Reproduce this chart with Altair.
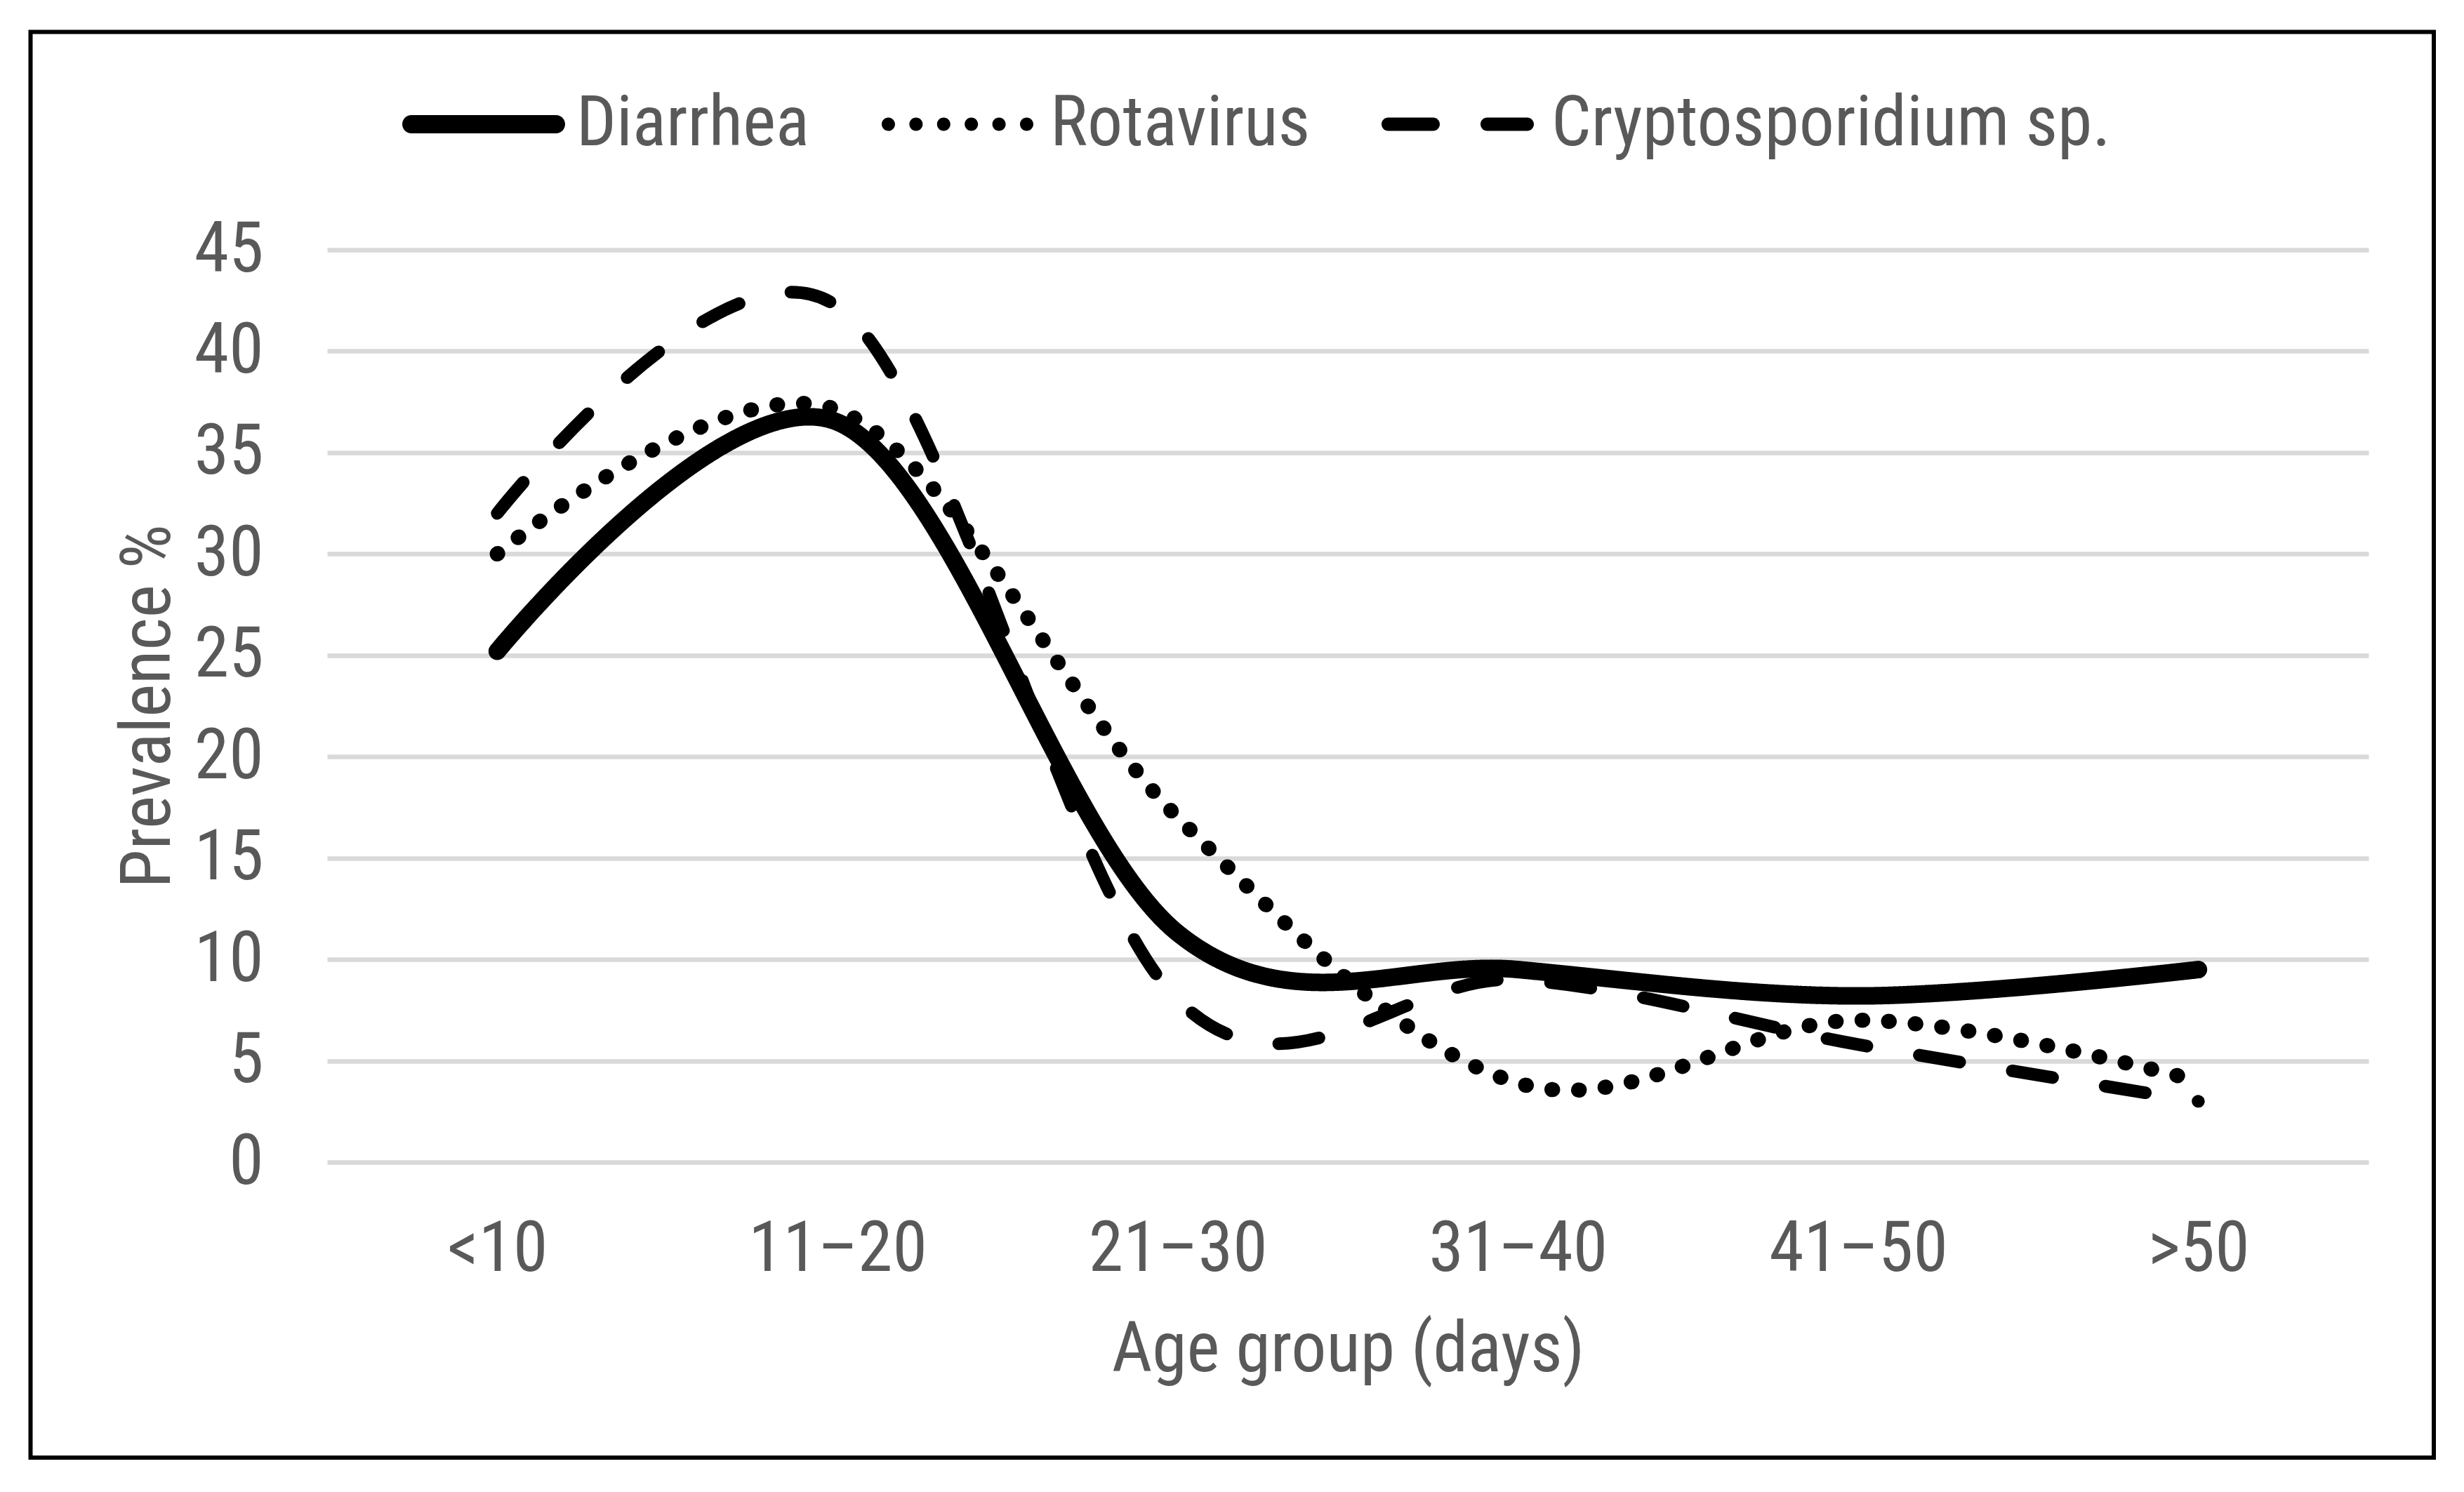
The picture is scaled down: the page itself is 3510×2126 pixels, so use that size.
import altair as alt
import pandas as pd

# ---- data ----
age_groups = ["<10", "11–20", "21–30", "31–40", "41–50", ">50"]
series_names = ["Diarrhea", "Rotavirus", "Cryptosporidium sp."]
diarrhea = [25.2, 36.5, 11.3, 9.5, 8.2, 9.5]
rotavirus = [30.0, 37.1, 17.0, 3.9, 7.0, 4.0]
cryptosporidium = [32.0, 42.2, 8.0, 9.0, 5.8, 3.0]
y_ticks = [0, 5, 10, 15, 20, 25, 30, 35, 40, 45]

rows = []
for name, vals in zip(series_names, [diarrhea, rotavirus, cryptosporidium]):
    for a, v in zip(age_groups, vals):
        rows.append({"age": a, "series": name, "legend_series": name, "value": v})
df = pd.DataFrame(rows)

FONT = "Roboto Condensed, Open Sans Condensed Light, DejaVu Sans Condensed, sans-serif"
GRAY = "#595959"
FS = 100

W, H = 2908, 1300


# ---- legend sample shapes (unit box -1..1, scaled by sqrt(symbolSize)/2 = 116 px) ----
def _u(px):
    return px / 116.0


def _pill(x0, x1, r):
    a, b, rr = _u(x0 + r), _u(x1 - r), _u(r)
    return (f"M{a:.4f},{-rr:.4f}L{b:.4f},{-rr:.4f}"
            f"A{rr:.4f},{rr:.4f} 0 0 1 {b:.4f},{rr:.4f}"
            f"L{a:.4f},{rr:.4f}A{rr:.4f},{rr:.4f} 0 0 1 {a:.4f},{-rr:.4f}Z")


def _dot(cx, r):
    c, rr = _u(cx), _u(r)
    return (f"M{c - rr:.4f},0A{rr:.4f},{rr:.4f} 0 1 0 {c + rr:.4f},0"
            f"A{rr:.4f},{rr:.4f} 0 1 0 {c - rr:.4f},0Z")


solid_shape = _pill(-116, 116, 13)
dotted_shape = "".join(_dot(-98.5 + 39.4 * k, 9.5) for k in range(6))
dashed_shape = _pill(-110, -27, 9.5) + _pill(31, 107, 9.5)

x_enc = alt.X("age:N", sort=age_groups, scale=alt.Scale(padding=0.5),
              axis=alt.Axis(title="Age group (days)", labelAngle=0, ticks=False, tickSize=0,
                            domain=False, grid=False, labelFont=FONT, labelFontSize=FS,
                            labelColor=GRAY, labelPadding=154, labelBaseline="alphabetic",
                            labelLimit=0, titleFont=FONT, titleFontSize=FS, titleColor=GRAY,
                            titleFontWeight="normal", titleBaseline="alphabetic", titleY=297))
y_enc = alt.Y("value:Q", scale=alt.Scale(domain=[0, 45], nice=False),
              axis=alt.Axis(title="Prevalence %", values=y_ticks, ticks=False, tickSize=0,
                            domain=False, grid=True, gridColor="#d9d9d9", gridWidth=6.5,
                            labelFont=FONT, labelFontSize=FS, labelColor=GRAY, labelPadding=91,
                            titleFont=FONT, titleFontSize=FS, titleColor=GRAY,
                            titleFontWeight="normal", titleBaseline="alphabetic", titleX=-225))

# line styles: scales without explicit domain so they do not merge with the legend below
lines = alt.Chart(df).mark_line(
    interpolate="cardinal", tension=0, strokeCap="round", strokeJoin="round", color="black"
).encode(
    x=x_enc,
    y=y_enc,
    strokeDash=alt.StrokeDash("series:N", sort=series_names,
                              scale=alt.Scale(range=[[1, 0], [1, 37], [58, 76]]),
                              legend=None),
    strokeWidth=alt.StrokeWidth("series:N", sort=series_names,
                                scale=alt.Scale(range=[25, 18, 18]),
                                legend=None),
)

legend_layer = alt.Chart(df).mark_point(filled=True, color="black", size=1).encode(
    x=x_enc,
    y=y_enc,
    shape=alt.Shape("legend_series:N", sort=series_names,
                    scale=alt.Scale(domain=series_names,
                                    range=[solid_shape, dotted_shape, dashed_shape]),
                    legend=alt.Legend(title=None, orient="none", direction="horizontal",
                                      legendX=107, legendY=-295, symbolSize=53824,
                                      symbolFillColor="black", symbolStrokeWidth=0,
                                      symbolOpacity=1,
                                      labelFont=FONT, labelFontSize=FS, labelColor=GRAY,
                                      labelOffset=16, columnPadding=95, padding=0,
                                      labelLimit=0)),
)

frame = alt.Chart(pd.DataFrame({"k": [0]})).mark_rect(
    fill="white", fillOpacity=0, stroke="black", strokeWidth=6
).encode(
    x=alt.value(-422.5), x2=alt.value(3001), y=alt.value(-310.5), y2=alt.value(1721)
)

chart = alt.layer(frame, lines, legend_layer).properties(
    width=W, height=H,
    autosize=alt.AutoSizeParams(type="none"),
    padding={"left": 458, "top": 348, "right": 128, "bottom": 462},
    background="white",
).configure_view(stroke=None)

chart.save("out.html", embed_options={"renderer": "svg", "actions": False})
